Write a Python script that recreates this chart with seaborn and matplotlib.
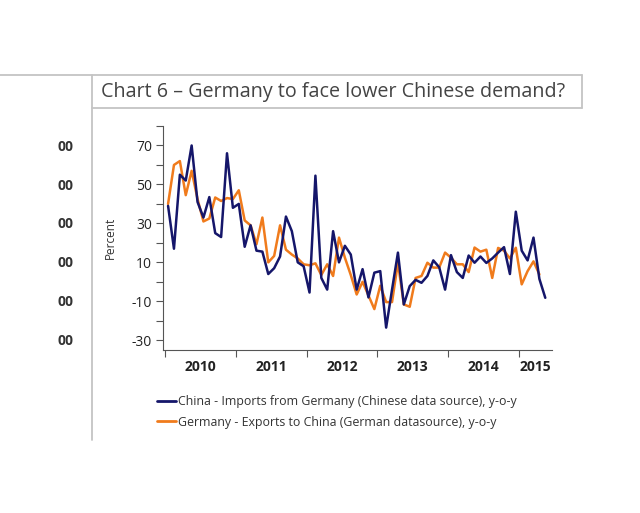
import numpy as np
import pandas as pd
import matplotlib
matplotlib.use("Agg")
import matplotlib.pyplot as plt
from matplotlib.lines import Line2D
import seaborn as sns

# monthly y-o-y growth, Jan 2010 onwards
china_imports = [39, 17, 55, 52, 70, 41, 33, 43.5, 25, 23, 66, 38,
                 40, 18, 29, 16, 15.5, 4, 7, 13, 33.5, 26, 10, 8,
                 -5.5, 54.5, 2, -4, 26, 10, 18.5, 14, -4, 6.5, -8, 4.7,
                 5.5, -23.5, -4, 15, -11.6, -2.2, 1, -0.5, 3, 11, 7.5, -4,
                 13.7, 5, 2, 13.5, 9.8, 13, 9.7, 12, 15, 17.8, 4, 36,
                 16, 11, 22.7, 1.5, -8.2]
germany_exports = [40, 60, 62, 44.5, 57, 42.5, 31, 32.5, 43.3, 41.5, 43, 42.5,
                   47, 31.5, 29, 19.3, 33, 10, 13.3, 29, 16.5, 14, 12, 9,
                   8.5, 9.5, 3.5, 9, 3, 22.7, 12.4, 3.5, -6.5, 0, -7, -14,
                   -2, -10.4, -10.4, 9.8, -11.6, -12.8, 2, 3, 9.8, 7.3, 7.3, 15,
                   12.4, 9, 9, 5, 17.6, 15.5, 16.5, 2, 17.4, 16, 12, 17.5,
                   -1.3, 5.5, 10.5, 3.8]
years = ["2010", "2011", "2012", "2013", "2014", "2015"]
label_cn = "China - Imports from Germany (Chinese data source), y-o-y"
label_de = "Germany - Exports to China (German datasource), y-o-y"

navy = "#15166a"
orange = "#f07b1c"


def month_pos(n):
    d = pd.date_range("2010-01-01", periods=n, freq="MS")
    return d.year + (d.month - 0.5) / 12


df = pd.concat([
    pd.DataFrame({"year": month_pos(len(germany_exports)), "value": germany_exports, "series": label_de}),
    pd.DataFrame({"year": month_pos(len(china_imports)), "value": china_imports, "series": label_cn}),
])

sns.set_style("white")
plt.rcParams["font.family"] = ["Open Sans", "DejaVu Sans"]
plt.rcParams["axes.unicode_minus"] = False

fig = plt.figure(figsize=(6.4, 5.13), dpi=100)
ax = fig.add_axes([163 / 640, 1 - 350 / 513, 389 / 640, 224 / 513])

sns.lineplot(data=df, x="year", y="value", hue="series",
             hue_order=[label_de, label_cn], palette=[orange, navy],
             linewidth=1.8, ax=ax, legend=False)

ax.set_xlim(2009.97, 2015.47)
ax.set_ylim(-35, 80)

# y axis
ax.set_yticks([-30, -10, 10, 30, 50, 70])
ax.set_yticks(np.arange(-20, 81, 20), minor=True)
ax.tick_params(axis="y", which="both", left=True, direction="out", length=5, width=0.8,
               color="#555555", labelsize=10, labelcolor="#222222", pad=3)
ax.set_ylabel("Percent", fontsize=8.5, color="#333333")
ax.yaxis.set_label_coords(-0.118, 0.5)

# x axis: ticks at year boundaries, labels in between
ax.set_xticks([int(y) for y in years])
ax.set_xticklabels([])
ax.set_xticks([2010.5, 2011.5, 2012.5, 2013.5, 2014.5, 2015.235], minor=True)
ax.set_xticklabels(years, minor=True, fontweight="bold", fontsize=10, color="#222222")
ax.tick_params(axis="x", which="major", bottom=True, direction="out", length=5, width=0.8, color="#555555")
ax.tick_params(axis="x", which="minor", bottom=True, length=0, pad=7)
ax.set_xlabel("")

for s in ["top", "right"]:
    ax.spines[s].set_visible(False)
for s in ["left", "bottom"]:
    ax.spines[s].set_color("#555555")
    ax.spines[s].set_linewidth(0.8)

# frame of the chart box
frame = "#c4c4c4"
fig.add_artist(Line2D([0, 582 / 640], [1 - 75 / 513] * 2, color=frame, lw=1.3, transform=fig.transFigure))
fig.add_artist(Line2D([92 / 640, 582 / 640], [1 - 108 / 513] * 2, color=frame, lw=1.3, transform=fig.transFigure))
fig.add_artist(Line2D([92 / 640] * 2, [1 - 75 / 513, 1 - 440 / 513], color=frame, lw=1.3, transform=fig.transFigure))
fig.add_artist(Line2D([582 / 640] * 2, [1 - 75 / 513, 1 - 108 / 513], color=frame, lw=1.3, transform=fig.transFigure))

fig.text(101 / 640, 1 - 92 / 513, "Chart 6 \u2013 Germany to face lower Chinese demand?",
         fontsize=14.2, color="#444444", va="center", ha="left")

# cut-off labels of the neighbouring chart
for yv in [147, 186, 224, 263, 302, 341]:
    fig.text(65 / 640, 1 - yv / 513, "00", fontsize=10, fontweight="bold",
             color="#333333", ha="center", va="center")

handles = [Line2D([], [], color=navy, lw=2), Line2D([], [], color=orange, lw=2)]
fig.legend(handles, [label_cn, label_de], loc="upper left",
           bbox_to_anchor=(146 / 640, 1 - 384 / 513), frameon=False,
           fontsize=8.9, handlelength=1.5, handletextpad=0.2,
           labelspacing=0.6, labelcolor="#333333")

fig.savefig("out.png", dpi=100, facecolor="white")
